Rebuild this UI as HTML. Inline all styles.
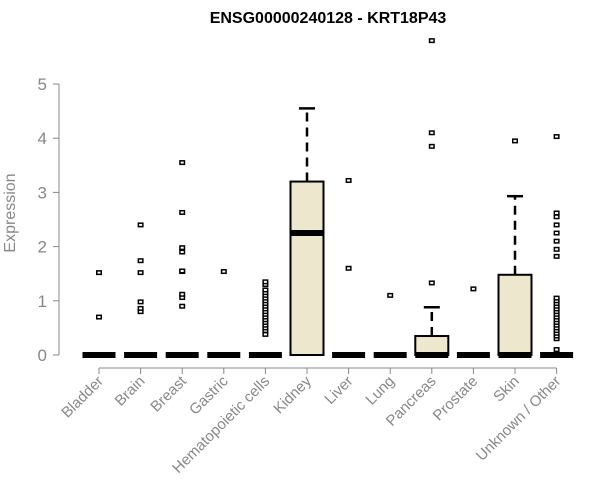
<!DOCTYPE html>
<html><head><meta charset="utf-8"><style>
body{margin:0;background:#fff;}
svg{display:block;font-family:"Liberation Sans",Arial,sans-serif;}
</style></head><body>
<svg id="chart" width="600" height="500">
<text x="328" y="23" text-anchor="middle" font-weight="bold" font-size="16">ENSG00000240128 - KRT18P43</text>
<text transform="translate(15,213) rotate(-90)" text-anchor="middle" font-size="16" fill="#888">Expression</text>
<g id="axes"></g><g id="marks"></g>
</svg>
<script>
const categories=["Bladder","Brain","Breast","Gastric","Hematopoietic cells","Kidney","Liver","Lung","Pancreas","Prostate","Skin","Unknown / Other"];
const q1=[0,0,0,0,0,0,0,0,0,0,0,0];
const medians=[0,0,0,0,0,2.25,0,0,0,0,0,0];
const q3=[0,0,0,0,0,3.2,0,0,0.35,0,1.48,0];
const whiskerHi=[0,0,0,0,0,4.55,0,0,0.88,0,2.93,0];
const outliers=[[0.7,1.52],[0.8,0.86,0.98,1.52,1.74,2.4],[0.9,1.06,1.12,1.54,1.55,1.9,1.98,2.63,3.55],[1.54],[0.38,0.45,0.5,0.55,0.6,0.65,0.7,0.75,0.8,0.85,0.9,0.95,1.0,1.05,1.1,1.15,1.2,1.3,1.35],[],[1.6,3.22],[1.1],[1.33,3.85,4.1,5.8],[1.22],[3.95],[0.1,0.3,0.35,0.4,0.45,0.5,0.55,0.6,0.65,0.7,0.75,0.8,0.85,0.9,0.95,1.0,1.05,1.82,1.95,2.1,2.25,2.4,2.55,2.62,4.03]];
const yTicks=[0,1,2,3,4,5];
const NS="http://www.w3.org/2000/svg";
const y=v=>355-v*54.2;
const x=i=>99+i*41.6;
const ax=document.getElementById('axes'),mk=document.getElementById('marks');
function el(t,a,p){const e=document.createElementNS(NS,t);for(const k in a)e.setAttribute(k,a[k]);p.appendChild(e);return e;}
const yl=el('line',{x1:59,x2:59,y1:y(0),y2:y(5),stroke:'#888'},ax);


yTicks.forEach(t=>{
 el('line',{x1:53,x2:59,y1:y(t),y2:y(t),stroke:'#888'},ax);
 const tx=el('text',{x:47,y:y(t)+6,'text-anchor':'end','font-size':17,fill:'#888'},ax);tx.textContent=t;
 
 
});
const xl=el('line',{x1:x(0),x2:x(categories.length-1),y1:368,y2:368,stroke:'#888'},ax);


const hw=16.5;
categories.forEach((c,i)=>{
 const cx=x(i);
 el('line',{x1:cx,x2:cx,y1:368,y2:374,stroke:'#888'},ax);
 const tx=el('text',{transform:`translate(${cx+5},${382}) rotate(-45)`,'text-anchor':'end','font-size':15,fill:'#888'},ax);tx.textContent=c;
 
 
 const g=el('g',{},mk);
 
 
 if(whiskerHi[i]>q3[i]){
  el('line',{x1:cx,x2:cx,y1:y(q3[i]),y2:y(whiskerHi[i]),stroke:'#000','stroke-width':2.5,'stroke-dasharray':'9,6'},g);
  el('line',{x1:cx-8,x2:cx+8,y1:y(whiskerHi[i]),y2:y(whiskerHi[i]),stroke:'#000','stroke-width':2.5},g);
 }
 if(q3[i]>q1[i]) el('rect',{x:cx-hw,y:y(q3[i]),width:2*hw,height:y(q1[i])-y(q3[i]),fill:'#ede7cd',stroke:'#000','stroke-width':2},g);
 el('line',{x1:cx-hw,x2:cx+hw,y1:y(medians[i]),y2:y(medians[i]),stroke:'#000','stroke-width':6},g);
 outliers[i].forEach(v=>{
  const r=el('rect',{x:cx-2.25,y:y(v)-1.75,width:4.5,height:3.5,fill:'#fff',stroke:'#000','stroke-width':1.5},g);
  
  
 });
});
</script>
</body></html>
